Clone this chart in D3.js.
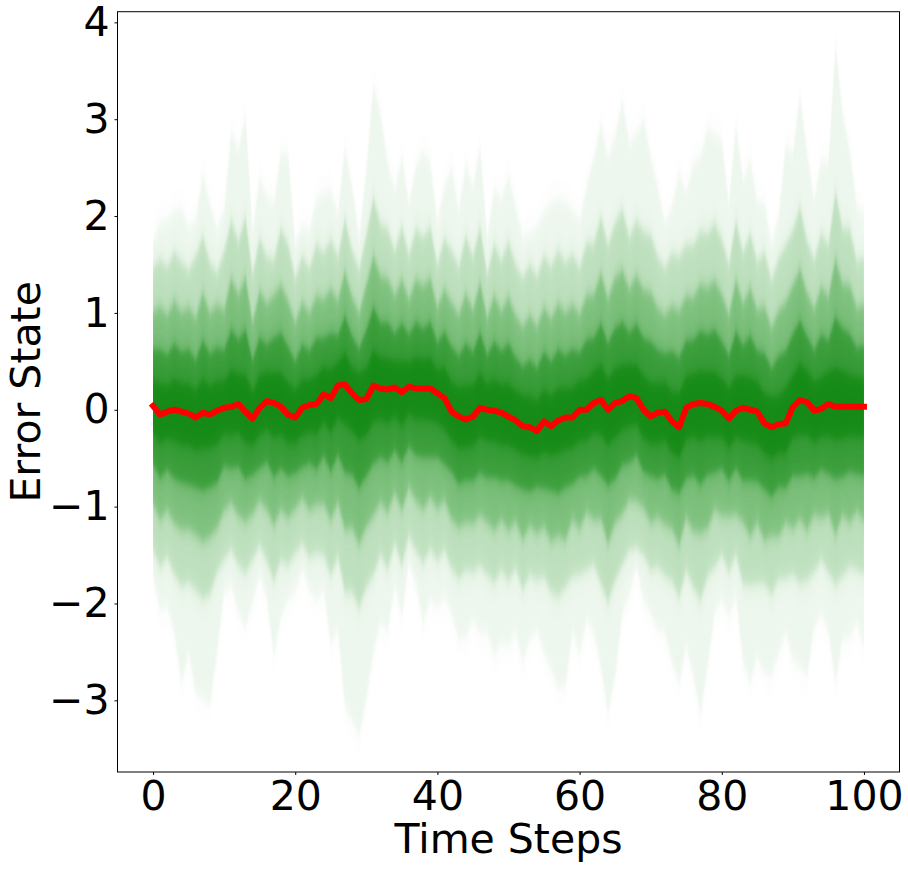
<!DOCTYPE html>
<html lang="en">
<head>
<meta charset="UTF-8">
<title>Error State</title>
<script src="https://cdn.jsdelivr.net/npm/d3@7"></script>
<style>
    body { margin: 0; padding: 0; background: #fff; }
    svg { display: block; font-family: "DejaVu Sans", sans-serif; }
</style>
</head>
<body>
<div id="chart"></div>
<script>
    // time axis
    const steps = d3.range(0, 101);
    const xTicks = [0, 20, 40, 60, 80, 100];
    const yTicks = [-3, -2, -1, 0, 1, 2, 3, 4];

    // median (red line)
    const median = [0.04,-0.05,-0.02,0.00,-0.02,-0.04,-0.08,-0.03,-0.05,-0.01,0.02,0.03,0.06,-0.02,-0.09,0.02,0.09,0.07,0.03,-0.05,
        -0.08,0.02,0.05,0.06,0.16,0.12,0.25,0.26,0.17,0.10,0.11,0.25,0.22,0.21,0.23,0.18,0.24,0.22,0.22,0.22,
        0.17,0.12,-0.02,-0.07,-0.10,-0.07,0.02,0.00,-0.01,-0.03,-0.07,-0.11,-0.17,-0.18,-0.22,-0.12,-0.17,-0.11,-0.08,-0.08,
        0.00,0.00,0.07,0.10,0.00,0.07,0.09,0.14,0.12,0.00,-0.07,-0.03,-0.02,-0.12,-0.18,0.02,0.06,0.07,0.06,0.03,
        -0.01,-0.09,-0.01,0.02,0.00,-0.02,-0.14,-0.18,-0.15,-0.14,0.03,0.10,0.08,-0.01,0.01,0.06,0.03,0.03,0.03,0.03,0.03];

    // upper envelopes, outermost first
    const upper1 = [1.75,1.93,1.96,2.06,2.08,1.89,1.96,2.42,2.13,1.86,2.06,2.87,2.68,3.04,1.85,2.39,2.20,2.13,2.65,2.63,
        1.72,1.91,1.86,2.17,2.24,2.27,2.03,2.70,2.30,1.79,2.47,3.35,3.06,2.55,2.27,2.61,2.13,2.51,2.66,2.54,
        1.93,2.30,2.49,2.06,2.53,2.30,2.72,1.79,2.27,2.17,2.41,2.10,1.79,1.82,1.89,2.04,2.13,2.18,2.15,2.06,
        1.96,2.30,2.61,2.94,2.61,2.82,3.20,2.75,2.85,3.00,2.61,2.30,1.93,2.10,2.44,2.24,2.54,2.61,2.91,2.85,
        2.78,2.13,2.94,2.37,2.58,2.15,2.13,1.72,2.00,2.72,2.65,3.25,2.65,2.17,2.58,2.54,3.77,3.06,2.68,2.10,2.04];
    const upper2 = [1.47,1.55,1.48,1.62,1.52,1.44,1.58,1.78,1.52,1.42,1.63,1.95,1.74,1.98,1.40,1.76,1.58,1.55,1.86,1.70,
        1.36,1.58,1.46,1.70,1.62,1.75,1.58,1.96,1.64,1.45,1.80,2.18,1.92,1.86,1.64,1.88,1.60,1.86,1.78,1.88,
        1.50,1.76,1.64,1.48,1.78,1.58,1.88,1.40,1.70,1.54,1.73,1.50,1.36,1.50,1.38,1.58,1.48,1.64,1.52,1.60,
        1.47,1.72,1.72,1.98,1.70,1.92,2.06,1.78,1.95,1.84,1.80,1.58,1.46,1.61,1.58,1.70,1.70,1.84,1.82,1.92,
        1.76,1.50,1.94,1.62,1.81,1.53,1.62,1.34,1.56,1.70,1.85,2.08,1.74,1.55,1.81,1.70,2.24,1.87,1.86,1.54,1.57];
    const upper3 = [1.01,1.06,0.98,1.12,1.01,1.05,0.95,1.20,1.00,1.08,1.03,1.35,1.19,1.36,0.90,1.22,1.10,1.18,1.28,1.12,
        0.90,1.10,1.00,1.17,1.14,1.24,1.13,1.42,1.16,1.00,1.28,1.58,1.38,1.35,1.18,1.34,1.14,1.34,1.28,1.35,
        1.06,1.24,1.10,0.98,1.19,1.03,1.30,0.95,1.17,1.02,1.16,0.97,0.86,0.97,0.86,1.05,0.94,1.09,1.00,1.08,
        0.98,1.18,1.19,1.40,1.15,1.36,1.44,1.25,1.38,1.24,1.21,1.05,0.98,1.07,1.02,1.17,1.16,1.29,1.26,1.33,
        1.19,0.98,1.33,1.10,1.25,1.03,1.06,0.85,1.02,1.11,1.28,1.45,1.20,1.04,1.26,1.17,1.55,1.30,1.28,1.05,1.08];
    const upper4 = [0.62,0.62,0.57,0.68,0.60,0.62,0.52,0.71,0.58,0.64,0.62,0.82,0.73,0.82,0.51,0.74,0.68,0.74,0.79,0.65,
        0.50,0.67,0.61,0.74,0.74,0.79,0.77,0.96,0.76,0.63,0.82,1.05,0.90,0.90,0.79,0.89,0.78,0.90,0.84,0.90,
        0.70,0.80,0.65,0.56,0.68,0.60,0.79,0.57,0.70,0.61,0.68,0.54,0.45,0.51,0.43,0.59,0.50,0.62,0.56,0.62,
        0.59,0.72,0.74,0.88,0.69,0.84,0.90,0.80,0.88,0.74,0.70,0.62,0.58,0.60,0.54,0.71,0.72,0.81,0.78,0.82,
        0.71,0.56,0.80,0.67,0.76,0.61,0.58,0.43,0.55,0.61,0.78,0.92,0.76,0.62,0.77,0.72,0.95,0.84,0.78,0.64,0.66];
    const upper5 = [0.30,0.27,0.25,0.31,0.27,0.26,0.21,0.31,0.25,0.29,0.30,0.40,0.37,0.36,0.19,0.35,0.39,0.38,0.38,0.28,
        0.21,0.31,0.31,0.36,0.44,0.42,0.49,0.58,0.44,0.38,0.43,0.61,0.54,0.53,0.50,0.50,0.49,0.54,0.52,0.53,
        0.42,0.43,0.29,0.24,0.25,0.26,0.37,0.27,0.31,0.26,0.27,0.20,0.15,0.14,0.10,0.20,0.15,0.22,0.22,0.23,
        0.30,0.32,0.40,0.46,0.32,0.42,0.46,0.47,0.46,0.35,0.28,0.27,0.28,0.19,0.18,0.34,0.37,0.40,0.39,0.39,
        0.32,0.23,0.34,0.35,0.33,0.29,0.17,0.13,0.15,0.23,0.36,0.48,0.40,0.30,0.33,0.39,0.43,0.40,0.36,0.34,0.32];

    // lower envelopes, outermost first
    const lower1 = [-1.75,-2.06,-2.03,-2.30,-2.84,-2.51,-2.92,-2.98,-3.04,-2.51,-1.89,-1.82,-2.10,-2.24,-1.99,-1.72,-1.96,-2.54,-2.13,-1.96,
        -1.87,-1.65,-1.86,-1.96,-1.86,-2.41,-2.27,-3.06,-3.20,-3.37,-2.99,-2.51,-2.20,-2.28,-1.82,-2.13,-1.58,-1.82,-2.20,-1.96,
        -2.03,-1.93,-2.10,-2.37,-2.34,-2.17,-2.30,-2.30,-2.54,-2.41,-2.44,-2.30,-2.61,-2.37,-2.27,-2.51,-2.68,-2.87,-2.85,-2.30,
        -2.51,-2.17,-2.30,-2.65,-3.13,-2.75,-2.12,-1.90,-1.62,-1.96,-2.10,-2.27,-2.30,-2.61,-2.82,-2.44,-2.75,-3.15,-2.65,-2.10,
        -1.96,-2.13,-1.93,-2.61,-2.82,-2.54,-2.72,-2.75,-2.51,-2.30,-2.58,-2.65,-2.75,-2.24,-2.10,-2.30,-2.82,-2.37,-2.34,-2.20,-2.44];
    const lower2 = [-1.45,-1.62,-1.52,-1.70,-1.82,-1.78,-1.86,-1.95,-1.90,-1.68,-1.54,-1.44,-1.60,-1.68,-1.54,-1.40,-1.56,-1.76,-1.55,-1.60,
        -1.48,-1.38,-1.52,-1.48,-1.50,-1.70,-1.52,-1.88,-1.88,-2.04,-1.83,-1.70,-1.50,-1.64,-1.38,-1.60,-1.30,-1.46,-1.58,-1.44,
        -1.55,-1.45,-1.64,-1.74,-1.66,-1.67,-1.61,-1.70,-1.78,-1.66,-1.76,-1.64,-1.85,-1.70,-1.75,-1.73,-1.88,-1.92,-1.83,-1.72,
        -1.70,-1.65,-1.60,-1.79,-1.98,-1.76,-1.60,-1.45,-1.42,-1.50,-1.65,-1.62,-1.71,-1.77,-1.93,-1.66,-1.83,-1.96,-1.72,-1.62,
        -1.50,-1.67,-1.50,-1.79,-1.81,-1.79,-1.80,-1.90,-1.75,-1.74,-1.70,-1.79,-1.76,-1.67,-1.55,-1.68,-1.80,-1.71,-1.62,-1.65,-1.69];
    const lower3 = [-0.97,-1.13,-1.04,-1.17,-1.24,-1.23,-1.29,-1.36,-1.31,-1.22,-1.04,-0.96,-1.09,-1.15,-1.07,-0.94,-1.03,-1.18,-1.03,-1.11,
        -1.02,-0.92,-1.03,-0.98,-0.97,-1.13,-0.96,-1.23,-1.22,-1.38,-1.21,-1.09,-0.96,-1.05,-0.86,-1.03,-0.80,-0.94,-1.02,-0.90,
        -1.01,-0.94,-1.13,-1.21,-1.16,-1.17,-1.09,-1.16,-1.24,-1.14,-1.24,-1.16,-1.33,-1.20,-1.27,-1.21,-1.35,-1.30,-1.34,-1.14,
        -1.22,-1.06,-1.13,-1.13,-1.37,-1.17,-1.07,-0.93,-0.94,-1.01,-1.16,-1.11,-1.18,-1.23,-1.39,-1.12,-1.25,-1.27,-1.22,-1.03,
        -1.09,-1.10,-1.08,-1.16,-1.30,-1.17,-1.34,-1.30,-1.30,-1.17,-1.22,-1.13,-1.24,-1.09,-1.11,-1.07,-1.28,-1.09,-1.16,-1.05,-1.14];
    const lower4 = [-0.56,-0.70,-0.62,-0.71,-0.75,-0.77,-0.80,-0.83,-0.80,-0.75,-0.58,-0.60,-0.59,-0.71,-0.67,-0.60,-0.54,-0.69,-0.61,-0.68,
        -0.65,-0.59,-0.55,-0.61,-0.48,-0.63,-0.47,-0.64,-0.67,-0.80,-0.68,-0.55,-0.49,-0.54,-0.42,-0.54,-0.38,-0.47,-0.49,-0.49,
        -0.49,-0.56,-0.64,-0.76,-0.73,-0.73,-0.65,-0.70,-0.70,-0.73,-0.73,-0.78,-0.82,-0.84,-0.80,-0.81,-0.83,-0.86,-0.80,-0.76,
        -0.69,-0.68,-0.61,-0.68,-0.78,-0.71,-0.57,-0.54,-0.47,-0.64,-0.68,-0.71,-0.67,-0.82,-0.86,-0.71,-0.68,-0.77,-0.67,-0.65,
        -0.61,-0.73,-0.61,-0.73,-0.73,-0.74,-0.82,-0.89,-0.80,-0.80,-0.68,-0.68,-0.66,-0.70,-0.62,-0.66,-0.71,-0.69,-0.64,-0.66,-0.68];
    const lower5 = [-0.24,-0.34,-0.30,-0.32,-0.36,-0.37,-0.41,-0.40,-0.39,-0.35,-0.25,-0.26,-0.24,-0.34,-0.36,-0.26,-0.20,-0.28,-0.26,-0.34,
        -0.34,-0.26,-0.23,-0.25,-0.13,-0.23,-0.09,-0.15,-0.22,-0.31,-0.26,-0.13,-0.10,-0.14,-0.07,-0.16,-0.05,-0.10,-0.10,-0.11,
        -0.14,-0.20,-0.31,-0.39,-0.39,-0.37,-0.28,-0.32,-0.33,-0.36,-0.37,-0.41,-0.46,-0.48,-0.49,-0.44,-0.47,-0.45,-0.41,-0.39,
        -0.32,-0.31,-0.24,-0.26,-0.36,-0.29,-0.21,-0.17,-0.15,-0.30,-0.35,-0.35,-0.32,-0.44,-0.49,-0.31,-0.28,-0.32,-0.28,-0.28,
        -0.29,-0.39,-0.29,-0.32,-0.34,-0.36,-0.45,-0.50,-0.45,-0.44,-0.29,-0.26,-0.26,-0.33,-0.28,-0.27,-0.31,-0.30,-0.27,-0.28,-0.28];

    const uppers = [upper1, upper2, upper3, upper4, upper5];
    const lowers = [lower1, lower2, lower3, lower4, lower5];
    const bandOpacity = [0.07, 0.2, 0.35, 0.55, 0.6];
    // each band is painted twice: a soft wide copy and a tighter copy
    const blurWide = ["0 14", "0 13", "0 12", "0 11", "0 9"];
    const blurTight = ["0 4", "0 4", "0 4", "0 3", "0 3"];

    const width = 908;
    const height = 870;
    const marginTop = 11.7;
    const marginRight = 8.5;
    const marginBottom = 98;
    const marginLeft = 117.5;

    const x = d3.scaleLinear().domain([-5, 105]).range([marginLeft, width - marginRight]);
    const y = d3.scaleLinear().domain([-3.74, 4.11]).range([height - marginBottom, marginTop]);

    const svg = d3.select("#chart").append("svg")
        .attr("width", width)
        .attr("height", height)
        .attr("viewBox", [0, 0, width, height]);

    const defs = svg.append("defs");
    defs.append("clipPath").attr("id", "plot")
        .append("rect")
        .attr("x", marginLeft).attr("y", marginTop)
        .attr("width", width - marginLeft - marginRight)
        .attr("height", height - marginTop - marginBottom);
    [blurWide, blurTight].forEach((set, j) => {
        set.forEach((s, k) => {
            defs.append("filter").attr("id", `soft${j}_${k}`)
                .attr("x", "-5%").attr("y", "-25%").attr("width", "110%").attr("height", "150%")
                .append("feGaussianBlur").attr("stdDeviation", s);
        });
    });

    // quantile bands, widest first
    const gBands = svg.append("g").attr("clip-path", "url(#plot)");

    uppers.forEach((up, k) => {
        const area = d3.area()
            .x(i => x(steps[i]))
            .y0(i => y(lowers[k][i]))
            .y1(i => y(up[i]));
        const d = area(d3.range(steps.length));
        // split the band opacity over two copies so the stacked result matches
        const half = 1 - Math.sqrt(1 - bandOpacity[k]);
        [0, 1].forEach(j => {
            gBands.append("path")
                .attr("d", d)
                .attr("fill", "green")
                .attr("fill-opacity", half)
                .attr("filter", `url(#soft${j}_${k})`);
        });
    });

    // median line
    const line = d3.line()
        .x(i => x(steps[i]))
        .y(i => y(median[i]));

    svg.append("path")
        .attr("d", line(d3.range(steps.length)))
        .attr("fill", "none")
        .attr("stroke", "#ff0000")
        .attr("stroke-width", 6)
        .attr("stroke-linejoin", "round")
        .attr("stroke-linecap", "square");

    // axes
    const xAxis = svg.append("g")
        .attr("transform", `translate(0,${height - marginBottom})`)
        .call(d3.axisBottom(x).tickValues(xTicks).tickSize(3).tickPadding(6).tickSizeOuter(0));
    const yAxis = svg.append("g")
        .attr("transform", `translate(${marginLeft},0)`)
        .call(d3.axisLeft(y).tickValues(yTicks).tickSize(3).tickPadding(5).tickSizeOuter(0));

    [xAxis, yAxis].forEach(g => {
        g.select(".domain").remove();
        g.attr("font-family", "DejaVu Sans, sans-serif").attr("font-size", 41);
        g.selectAll(".tick line").attr("stroke", "#000").attr("stroke-width", 1);
        g.selectAll(".tick text").attr("fill", "#000");
    });

    // frame
    svg.append("rect")
        .attr("x", marginLeft).attr("y", marginTop)
        .attr("width", width - marginLeft - marginRight)
        .attr("height", height - marginTop - marginBottom)
        .attr("fill", "none")
        .attr("stroke", "#000")
        .attr("stroke-width", 1);

    svg.append("text")
        .attr("x", (marginLeft + width - marginRight) / 2)
        .attr("y", 853)
        .attr("text-anchor", "middle")
        .attr("font-size", 41)
        .text("Time Steps");

    svg.append("text")
        .attr("transform", `translate(40,${(marginTop + height - marginBottom) / 2}) rotate(-90)`)
        .attr("text-anchor", "middle")
        .attr("font-size", 41)
        .text("Error State");
</script>
</body>
</html>
